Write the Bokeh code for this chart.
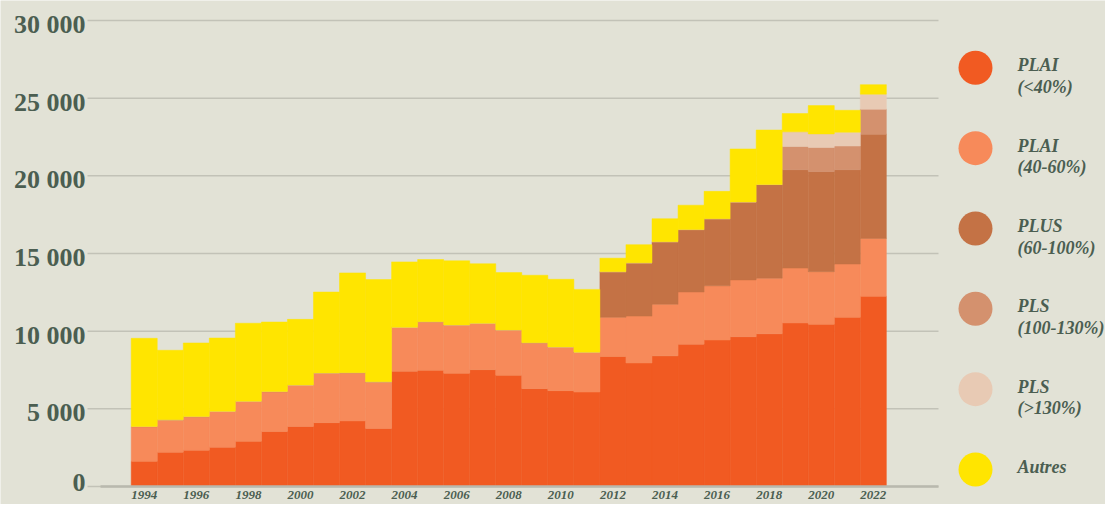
from bokeh.plotting import figure
from bokeh.models import Range1d, ColumnDataSource
from bokeh.core.properties import value
from bokeh.embed import file_html
from bokeh.resources import INLINE

# ---------------- data ----------------
years = list(range(1994, 2023))
plai_40 = [1620, 2210, 2340, 2530, 2910, 3540, 3860, 4110, 4220, 3730,
           7420, 7480, 7290, 7520, 7160, 6300, 6170, 6080, 8370, 7950,
           8410, 9160, 9430, 9640, 9830, 10530, 10440, 10890, 12240]
plai_60 = [2240, 2080, 2160, 2310, 2580, 2570, 2670, 3200, 3110, 3010,
           2830, 3130, 3110, 2990, 2920, 2960, 2810, 2570, 2520, 3020,
           3320, 3360, 3490, 3660, 3580, 3530, 3390, 3430, 3730]
plus = [0, 0, 0, 0, 0, 0, 0, 0, 0, 0,
        0, 0, 0, 0, 0, 0, 0, 0, 2940, 3430,
        4030, 4020, 4320, 5020, 6030, 6330, 6440, 6070, 6710]
pls_100_130 = [0] * 25 + [1500, 1560, 1530, 1610]
pls_130 = [0] * 25 + [940, 870, 890, 970]
autres = [5680, 4480, 4740, 4720, 5020, 4480, 4230, 5210, 6420, 6580,
          4210, 4000, 4130, 3830, 3690, 4340, 4360, 4040, 870, 1170,
          1480, 1570, 1760, 3410, 3510, 1180, 1820, 1410, 610]

series_keys = ["plai_40", "plai_60", "plus", "pls_100_130", "pls_130", "autres"]
legend_line1 = ["PLAI", "PLAI", "PLUS", "PLS", "PLS", "Autres"]
legend_line2 = ["(<40%)", "(40-60%)", "(60-100%)", "(100-130%)", "(>130%)", ""]
colors = ["#f15a22", "#f78a5a", "#c47245", "#d4916e", "#e8cab4", "#ffe500"]

x_ticks = list(range(1994, 2023, 2))
y_ticks = [0, 5000, 10000, 15000, 20000, 25000, 30000]
y_tick_labels = ["0", "5 000", "10 000", "15 000", "20 000", "25 000", "30 000"]

BG = "#e2e2d6"
TXT = "#4b5e51"
FONT = "Liberation Serif"

W, H = 1105, 504

# ---------------- pixel <-> data helpers (layout only) ----------------
PX_YEAR = 26.04          # pixels per year
X0_PX = 130.7            # pixel of left edge of first bar (1993.5)
x_start = 1993.5 - X0_PX / PX_YEAR
x_end = x_start + W / PX_YEAR
ZERO_PY = 486.0          # pixel row of value 0
TOP_PY = 20.0            # pixel row of value 30000
PX_UNIT = (ZERO_PY - TOP_PY) / 30000.0
y_end = ZERO_PY / PX_UNIT
y_start = -(H - ZERO_PY) / PX_UNIT


def dx(px):
    return x_start + px / PX_YEAR


def dy(py):
    return (ZERO_PY - py) / PX_UNIT


source = ColumnDataSource(dict(year=years, plai_40=plai_40, plai_60=plai_60,
                               plus=plus, pls_100_130=pls_100_130,
                               pls_130=pls_130, autres=autres))

p = figure(width=W, height=H, output_backend="svg", toolbar_location=None,
           x_range=Range1d(x_start, x_end), y_range=Range1d(y_start, y_end),
           min_border=0)
p.background_fill_color = BG
p.border_fill_color = BG
p.outline_line_color = None
p.axis.visible = False
p.grid.grid_line_color = None

# horizontal grid lines
p.segment(x0=[dx(87)] * len(y_ticks), y0=y_ticks,
          x1=[dx(938)] * len(y_ticks), y1=y_ticks,
          line_color="#c2c2b7", line_width=1.5)

# stacked bars
p.vbar_stack(series_keys, x="year", width=1.0, source=source,
             fill_color=colors, line_color=colors, line_width=0.5)

# baseline
p.segment(x0=[dx(100)], y0=[0], x1=[dx(938)], y1=[0],
          line_color="#b9b9ae", line_width=2.6)

# y tick labels
y_lab_pos = [t - 4 / PX_UNIT if t > 0 else t + 4 / PX_UNIT for t in y_ticks]
p.text(x=[dx(85)] * len(y_ticks), y=y_lab_pos, text=y_tick_labels,
       text_align="right", text_baseline="middle", text_font=value(FONT),
       text_font_style="bold", text_font_size="26px", text_color=TXT)

# x tick labels
p.text(x=x_ticks, y=[dy(490)] * len(x_ticks), text=[str(v) for v in x_ticks],
       text_align="center", text_baseline="top", text_font=value(FONT),
       text_font_style="bold italic", text_font_size="13px", text_color=TXT)

# legend
cy = [67.3 + 80.34 * i for i in range(len(series_keys))]
p.scatter(x=[dx(975)] * len(cy), y=[dy(c) for c in cy], size=34,
          color=colors, line_width=0)
p.text(x=[dx(1017)] * len(cy), y=[dy(c - 2.5) for c in cy], text=legend_line1,
       text_baseline="middle", text_align="left", text_font=value(FONT),
       text_font_style="bold italic", text_font_size="18px", text_color=TXT)
p.text(x=[dx(1017)] * len(cy), y=[dy(c + 19.2) for c in cy], text=legend_line2,
       text_baseline="middle", text_align="left", text_font=value(FONT),
       text_font_style="bold italic", text_font_size="18px", text_color=TXT)

open("out.html", "w").write(file_html(p, INLINE))
